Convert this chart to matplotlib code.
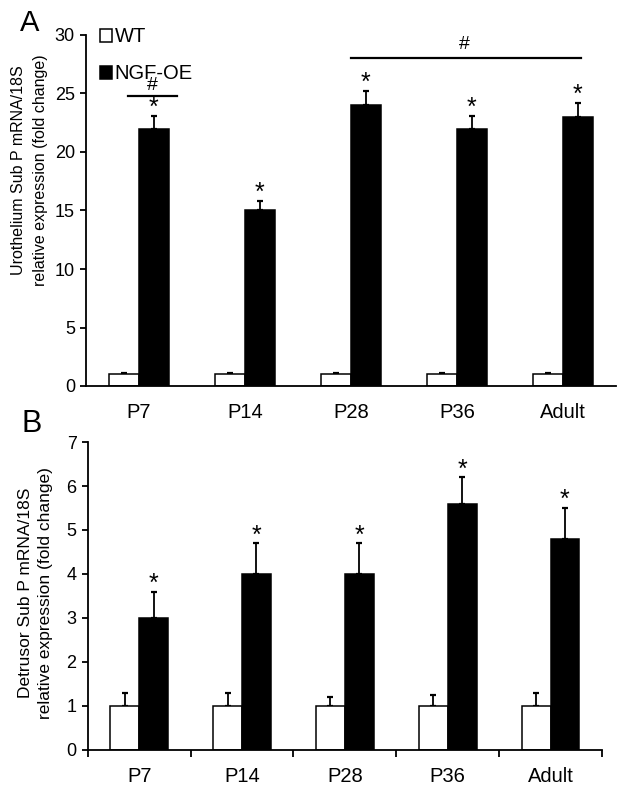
import matplotlib
matplotlib.use("Agg")
import matplotlib.pyplot as plt
import numpy as np
from matplotlib.patches import Patch

plt.rcParams['font.family'] = ['Liberation Sans', 'DejaVu Sans']

categories = ["P7", "P14", "P28", "P36", "Adult"]
series = ["WT", "NGF-OE"]

# Panel A: urothelium
a_wt = [1, 1, 1, 1, 1]
a_wt_err = [0.08, 0.08, 0.08, 0.08, 0.08]
a_ngf = [22, 15, 24, 22, 23]
a_ngf_err = [1.1, 0.8, 1.2, 1.1, 1.2]

# Panel B: detrusor
b_wt = [1, 1, 1, 1, 1]
b_wt_err = [0.3, 0.3, 0.2, 0.25, 0.3]
b_ngf = [3.0, 4.0, 4.0, 5.6, 4.8]
b_ngf_err = [0.6, 0.7, 0.7, 0.6, 0.7]

a_yticks = [0, 5, 10, 15, 20, 25, 30]
b_yticks = [0, 1, 2, 3, 4, 5, 6, 7]

fig = plt.figure(figsize=(6.25, 7.92), dpi=100)
axA = fig.add_axes([86/625, 1-386/792, (616-86)/625, (386-35)/792])
axB = fig.add_axes([87.7/625, 1-750/792, (602-87.7)/625, (750-442)/792])

W = 0.28
x = np.arange(len(categories))

def draw(ax, wt, wt_err, ngf, ngf_err, ylim, yticks, ast_off):
    ax.bar(x - W/2, wt, W, color='white', edgecolor='black', linewidth=1.1, zorder=2)
    ax.bar(x + W/2, ngf, W, color='black', edgecolor='black', linewidth=1.1, zorder=2)
    ax.errorbar(x - W/2, wt, yerr=[np.zeros(len(wt)), wt_err], fmt='none',
                ecolor='black', elinewidth=1.3, capsize=2.5, capthick=1.6, zorder=1)
    ax.errorbar(x + W/2, ngf, yerr=[np.zeros(len(ngf)), ngf_err], fmt='none',
                ecolor='black', elinewidth=1.3, capsize=2.5, capthick=1.6, zorder=1)
    for xi, v, e in zip(x, ngf, ngf_err):
        ax.annotate('*', (xi + W/2, v + e), xytext=(0, ast_off), textcoords='offset points',
                    ha='center', va='bottom', fontsize=18)
    ax.set_xlim(-0.5, len(categories) - 0.5)
    ax.set_ylim(*ylim)
    ax.set_yticks(yticks)
    ax.spines['top'].set_visible(False)
    ax.spines['right'].set_visible(False)
    for s in ['left', 'bottom']:
        ax.spines[s].set_linewidth(1.3)
    ax.tick_params(axis='y', direction='out', length=4, width=1.3, labelsize=13, pad=4)

draw(axA, a_wt, a_wt_err, a_ngf, a_ngf_err, (0, 30), a_yticks, -3)
draw(axB, b_wt, b_wt_err, b_ngf, b_ngf_err, (0, 7), b_yticks, -3)

# Panel A x axis: labels only
axA.set_xticks(x)
axA.set_xticklabels(categories, fontsize=14.5)
axA.tick_params(axis='x', length=0, pad=12)

# Panel B x axis: ticks at boundaries
axB.set_xticks(x)
axB.set_xticklabels(categories, fontsize=14.5)
axB.tick_params(axis='x', which='major', length=0, pad=12)
axB.set_xticks(np.arange(-0.5, len(categories), 1.0), minor=True)
axB.tick_params(axis='x', which='minor', direction='out', length=5, width=1.3)

axA.set_ylabel("Urothelium Sub P mRNA/18S\nrelative expression (fold change)", fontsize=11.5,
               linespacing=1.6)
axA.yaxis.set_label_coords(-0.0717, 0.615)
axB.set_ylabel("Detrusor Sub P mRNA/18S\nrelative expression (fold change)", fontsize=12.5,
               linespacing=1.4)
axB.yaxis.set_label_coords(-0.0675, 0.51)

# Significance markers in A
axA.plot([-0.1, 0.36], [24.8, 24.8], color='black', lw=1.6)
axA.text(0.13, 25.0, '#', ha='center', va='bottom', fontsize=14)
axA.plot([2.0, 4.17], [28.05, 28.05], color='black', lw=1.6)
axA.text(3.07, 28.5, '#', ha='center', va='bottom', fontsize=14)

# Legend
handles = [Patch(facecolor='white', edgecolor='black', linewidth=1.1),
           Patch(facecolor='black', edgecolor='black', linewidth=1.1)]
leg = axA.legend(handles, series, loc='upper left', bbox_to_anchor=(0.0106, 1.045),
                 frameon=False, fontsize=14.5, handlelength=0.6, handleheight=0.6,
                 handletextpad=0.15, labelspacing=0.9, borderaxespad=0)

fig.text(20/625, 1-31/792, 'A', fontsize=21, ha='left', va='baseline')
fig.text(21/625, 1-432/792, 'B', fontsize=22, ha='left', va='baseline')

fig.savefig('out.png', dpi=100)
